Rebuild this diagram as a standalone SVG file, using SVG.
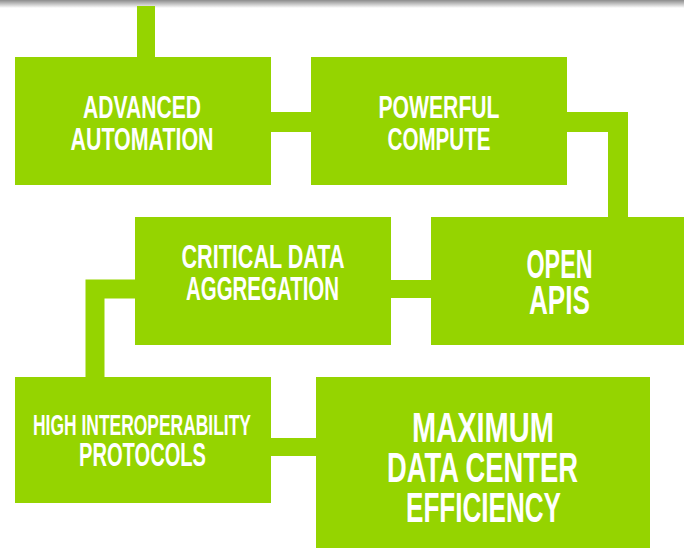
<svg xmlns="http://www.w3.org/2000/svg" width="684" height="548" viewBox="0 0 684 548">
  <defs>
    <linearGradient id="shadow" x1="0" y1="0" x2="0" y2="1">
      <stop offset="0" stop-color="#8c8c8c"/>
      <stop offset="0.5" stop-color="#c4c4c4"/>
      <stop offset="1" stop-color="#ffffff"/>
    </linearGradient>
    <style>
      .box { fill: #95d400; }
      .bar { fill: none; stroke: #95d400; }
      .lbl { fill: #ffffff; font-family: "Liberation Sans", Arial, sans-serif; font-weight: bold; text-anchor: middle; }
    </style>
  </defs>
  <rect x="0" y="0" width="684" height="548" fill="#ffffff"/>
  <rect x="0" y="0" width="684" height="8" fill="url(#shadow)"/>

  <g id="connectors">
    <path class="bar" d="M146 6 V57" stroke-width="18"/>
    <path class="bar" d="M270 122 H312" stroke-width="20"/>
    <path class="bar" d="M566 122 H618 V218" stroke-width="20" stroke-linejoin="miter"/>
    <path class="bar" d="M390 289 H432" stroke-width="18"/>
    <path class="bar" d="M136 289 H95 V378" stroke-width="19" stroke-linejoin="miter"/>
    <path class="bar" d="M270 447 H317" stroke-width="18"/>
  </g>

  <g id="advanced-automation">
    <rect class="box" x="15" y="57" width="256" height="128"/>
    <text class="lbl" font-size="32"><tspan x="142" y="118" textLength="118" lengthAdjust="spacingAndGlyphs">ADVANCED</tspan><tspan x="142" y="150" textLength="143" lengthAdjust="spacingAndGlyphs">AUTOMATION</tspan></text>
  </g>

  <g id="powerful-compute">
    <rect class="box" x="311" y="57" width="256" height="128"/>
    <text class="lbl" font-size="32"><tspan x="439" y="118" textLength="121" lengthAdjust="spacingAndGlyphs">POWERFUL</tspan><tspan x="439" y="150" textLength="103" lengthAdjust="spacingAndGlyphs">COMPUTE</tspan></text>
  </g>

  <g id="critical-data-aggregation">
    <rect class="box" x="135" y="217" width="256" height="128"/>
    <text class="lbl" font-size="33"><tspan x="263" y="268" textLength="163" lengthAdjust="spacingAndGlyphs">CRITICAL DATA</tspan><tspan x="262.5" y="300" textLength="153" lengthAdjust="spacingAndGlyphs">AGGREGATION</tspan></text>
  </g>

  <g id="open-apis">
    <rect class="box" x="431" y="217" width="253" height="128"/>
    <text class="lbl" font-size="40"><tspan x="559.5" y="277.5" textLength="66" lengthAdjust="spacingAndGlyphs">OPEN</tspan><tspan x="559.5" y="314" textLength="61" lengthAdjust="spacingAndGlyphs">APIS</tspan></text>
  </g>

  <g id="high-interoperability-protocols">
    <rect class="box" x="15" y="377" width="256" height="126"/>
    <text class="lbl"><tspan x="142" y="435" font-size="29" textLength="218" lengthAdjust="spacingAndGlyphs">HIGH INTEROPERABILITY</tspan><tspan x="142.5" y="465.5" font-size="33" textLength="127" lengthAdjust="spacingAndGlyphs">PROTOCOLS</tspan></text>
  </g>

  <g id="maximum-data-center-efficiency">
    <rect class="box" x="316" y="377" width="334" height="171"/>
    <text class="lbl" font-size="42"><tspan x="483" y="441.5" textLength="142" lengthAdjust="spacingAndGlyphs">MAXIMUM</tspan><tspan x="482.5" y="481.5" textLength="191" lengthAdjust="spacingAndGlyphs">DATA CENTER</tspan><tspan x="483.5" y="521.5" textLength="155" lengthAdjust="spacingAndGlyphs">EFFICIENCY</tspan></text>
  </g>
</svg>
